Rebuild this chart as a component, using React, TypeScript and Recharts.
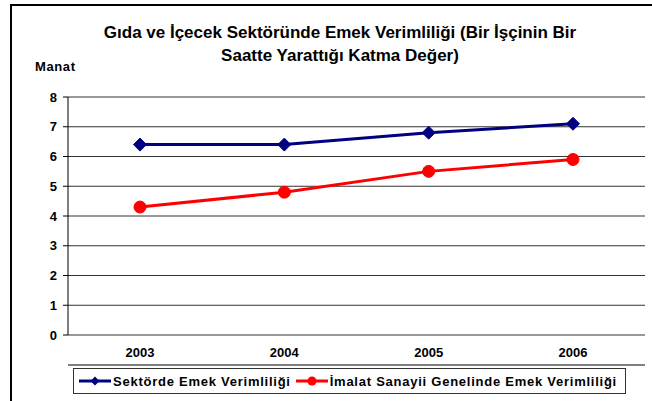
import { LineChart, Line, XAxis, YAxis, CartesianGrid } from 'recharts'

const YEARS = ['2003', '2004', '2005', '2006']
const SEKTOR = [6.4, 6.4, 6.8, 7.1]
const IMALAT = [4.3, 4.8, 5.5, 5.9]
const Y_TICKS = [0, 1, 2, 3, 4, 5, 6, 7, 8]
const BOUNDARY_TICKS = [0, 1, 2, 3, 4]

const SERIES_A = 'Sektörde Emek Verimliliği'
const SERIES_B = 'İmalat Sanayii Genelinde Emek Verimliliği'
const TITLE_1 = 'Gıda ve İçecek Sektöründe Emek Verimliliği (Bir İşçinin Bir'
const TITLE_2 = 'Saatte Yarattığı Katma Değer)'
const Y_LABEL = 'Manat'

const NAVY = '#000080'
const RED = '#ff0000'
const FONT = '"Liberation Sans", Arial, sans-serif'

const chartData = YEARS.map((y, i) => ({ year: y, a: SEKTOR[i], b: IMALAT[i] }))

function Diamond(props: any) {
  const { cx, cy, index } = props
  if (cx == null || cy == null) return null
  const s = 6.5
  return (
    <polygon
      key={`dia-${index}`}
      points={`${cx},${cy - s} ${cx + s},${cy} ${cx},${cy + s} ${cx - s},${cy}`}
      fill={NAVY}
      stroke={NAVY}
    />
  )
}

function YTick(props: any) {
  const { x, y, payload } = props
  return (
    <text
      x={x}
      y={y}
      dy={4.5}
      textAnchor="end"
      fill="#000"
      fontSize={13}
      fontWeight="bold"
      fontFamily={FONT}
    >
      {payload.value}
    </text>
  )
}

function LegendIcon({ color, shape }: { color: string; shape: 'diamond' | 'circle' }) {
  return (
    <svg width={32} height={12} style={{ display: 'block' }}>
      <line x1={0} y1={6} x2={32} y2={6} stroke={color} strokeWidth={3} />
      {shape === 'diamond' ? (
        <polygon points="16,1.5 20.5,6 16,10.5 11.5,6" fill={color} />
      ) : (
        <circle cx={16} cy={6} r={4.5} fill={color} />
      )}
    </svg>
  )
}

export default function App() {
  return (
    <div
      style={{
        position: 'absolute',
        left: 0,
        top: 0,
        width: 652,
        height: 401,
        overflow: 'hidden',
        background: '#fff',
        fontFamily: FONT,
      }}
    >
      {/* outer chart frame, cut off on right and bottom */}
      <div
        style={{
          position: 'absolute',
          left: 10,
          top: 4,
          width: 680,
          height: 440,
          border: '2px solid #000',
        }}
      />
      <div
        style={{
          position: 'absolute',
          left: 0,
          width: 680,
          top: 21,
          textAlign: 'center',
          fontWeight: 'bold',
          fontSize: 17,
          lineHeight: '23px',
          color: '#000',
        }}
      >
        <div>{TITLE_1}</div>
        <div>{TITLE_2}</div>
      </div>
      <div
        style={{
          position: 'absolute',
          left: 35,
          top: 59,
          fontWeight: 'bold',
          fontSize: 13,
          letterSpacing: 0.6,
        }}
      >
        {Y_LABEL}
      </div>

      <div style={{ position: 'absolute', left: 0, top: 0 }}>
        <LineChart
          width={652}
          height={401}
          data={chartData}
          margin={{ top: 97, right: 7, bottom: 35, left: 0 }}
        >
          <CartesianGrid vertical={false} stroke="#333" />
          <XAxis
            xAxisId="edge"
            type="number"
            domain={[0, 4]}
            ticks={BOUNDARY_TICKS}
            height={1}
            axisLine={{ stroke: '#000' }}
            tick={false}
            tickSize={5}
            tickLine={{ stroke: '#000' }}
          />
          <XAxis
            dataKey="year"
            xAxisId="cat"
            height={30}
            padding={{ left: 72, right: 72 }}
            axisLine={false}
            tickLine={false}
            tickSize={0}
            tickMargin={13}
            tick={{ fill: '#000', fontSize: 13, fontWeight: 'bold', fontFamily: FONT }}
          />
          <YAxis
            width={68}
            domain={[0, 8]}
            ticks={Y_TICKS}
            interval={0}
            axisLine={{ stroke: '#000' }}
            tickLine={{ stroke: '#000' }}
            tickSize={5}
            tickMargin={6}
            tick={YTick}
          />
          <YAxis
            yAxisId="right"
            orientation="right"
            width={0}
            domain={[0, 8]}
            tick={false}
            tickLine={false}
            axisLine={{ stroke: '#888' }}
          />
          <Line
            xAxisId="cat"
            dataKey="a"
            name={SERIES_A}
            stroke={NAVY}
            strokeWidth={3}
            dot={Diamond}
            activeDot={false}
            isAnimationActive={false}
          />
          <Line
            xAxisId="cat"
            dataKey="b"
            name={SERIES_B}
            stroke={RED}
            strokeWidth={3}
            dot={{ r: 6, fill: RED, stroke: RED, strokeWidth: 1 }}
            activeDot={false}
            isAnimationActive={false}
          />
        </LineChart>
      </div>

      <div
        style={{
          position: 'absolute',
          left: 73,
          top: 368,
          width: 553,
          height: 26,
          border: '1px solid #333',
          display: 'flex',
          alignItems: 'center',
          paddingLeft: 5,
          boxSizing: 'border-box',
          fontWeight: 'bold',
          fontSize: 13,
          letterSpacing: 0.75,
          whiteSpace: 'nowrap',
        }}
      >
        <LegendIcon color={NAVY} shape="diamond" />
        <span style={{ marginLeft: 2 }}>{SERIES_A}</span>
        <span style={{ marginLeft: 5 }}>
          <LegendIcon color={RED} shape="circle" />
        </span>
        <span style={{ marginLeft: 2 }}>{SERIES_B}</span>
      </div>
    </div>
  )
}
